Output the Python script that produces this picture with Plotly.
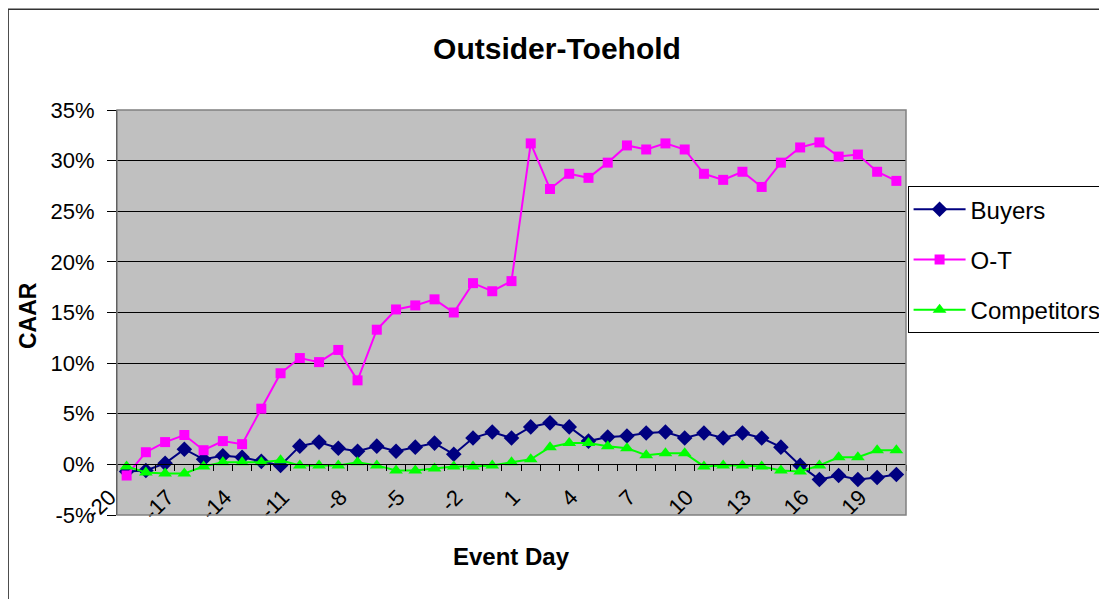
import plotly.graph_objects as go

days = list(range(-20, 21))
x_tick_vals = [-20, -17, -14, -11, -8, -5, -2, 1, 4, 7, 10, 13, 16, 19]
x_tick_text = ["-20", "-17", "-14", "-11", "-8", "-5", "-2", "1", "4", "7", "10", "13", "16", "19"]
y_tick_vals = [-5, 0, 5, 10, 15, 20, 25, 30, 35]
y_tick_text = ["-5%", "0%", "5%", "10%", "15%", "20%", "25%", "30%", "35%"]

buyers = [-0.7, -0.6, 0.1, 1.5, 0.5, 0.85, 0.7, 0.3, -0.1, 1.8,
          2.2, 1.6, 1.3, 1.8, 1.3, 1.7, 2.1, 1.0, 2.6, 3.2,
          2.6, 3.7, 4.1, 3.7, 2.3, 2.7, 2.8, 3.1, 3.2, 2.6,
          3.1, 2.6, 3.1, 2.6, 1.7, -0.1, -1.5, -1.1, -1.5, -1.3,
          -1.0]

ot = [-1.1, 1.2, 2.2, 2.9, 1.4, 2.3, 2.0, 5.5, 9.0, 10.5,
      10.1, 11.3, 8.3, 13.3, 15.3, 15.7, 16.3, 15.0, 17.9, 17.1,
      18.1, 31.7, 27.2, 28.7, 28.3, 29.8, 31.5, 31.1, 31.7, 31.1,
      28.7, 28.1, 28.9, 27.4, 29.8, 31.3, 31.8, 30.4, 30.6, 28.9,
      28.0]

competitors = [-0.2, -0.8, -0.9, -0.9, -0.2, 0.2, 0.2, 0.2, 0.4, -0.1,
               -0.1, -0.1, 0.2, -0.1, -0.6, -0.6, -0.4, -0.2, -0.2, -0.1,
               0.2, 0.5, 1.7, 2.1, 2.1, 1.8, 1.6, 0.9, 1.1, 1.1,
               -0.2, -0.1, -0.1, -0.2, -0.6, -0.7, -0.1, 0.7, 0.7, 1.4,
               1.4]

FONT = "Liberation Sans, Arial, sans-serif"

fig = go.Figure()
fig.add_trace(go.Scatter(x=days, y=buyers, name="Buyers", mode="lines+markers",
                         line=dict(color="#000080", width=2),
                         marker=dict(symbol="diamond", size=12, color="#000080"),
                         legendgroup="b"))
fig.add_trace(go.Scatter(x=days, y=ot, name="O-T", mode="lines+markers",
                         line=dict(color="#FF00FF", width=2),
                         marker=dict(symbol="square", size=10, color="#FF00FF"),
                         legendgroup="o"))
fig.add_trace(go.Scatter(x=days, y=competitors, name="Competitors", mode="lines+markers",
                         line=dict(color="#00FF00", width=2),
                         marker=dict(symbol="triangle-up", size=12, color="#00FF00"),
                         legendgroup="c"))
# invisible trace to carry the zero-crossing category axis
fig.add_trace(go.Scatter(x=days, y=buyers, xaxis="x2", mode="markers",
                         marker=dict(opacity=0), showlegend=False, hoverinfo="skip"))

boundaries = [d - 0.5 for d in days] + [days[-1] + 0.5]

W, H = 1099, 591  # page body adds an 8px margin

fig.update_layout(
    width=W, height=H,
    margin=dict(l=109, r=201, t=102, b=84, autoexpand=False),
    paper_bgcolor="white",
    plot_bgcolor="#C0C0C0",
    font=dict(family=FONT, color="black"),
    title=dict(text="<b>Outsider-Toehold</b>", x=549 / W, xref="container",
               xanchor="center", y=1 - 40 / H, yanchor="middle", yref="container",
               font=dict(size=30, family=FONT, color="black")),
    xaxis=dict(range=[-20.5, 20.5], tickmode="array", tickvals=x_tick_vals,
               ticktext=x_tick_text, showgrid=False,
               zeroline=False, showline=False, ticks="", tickangle=-45,
               tickfont=dict(size=22, family=FONT),
               ticklabelstandoff=-36, ticklabelshift=-17),
    xaxis2=dict(range=[-20.5, 20.5], overlaying="x", anchor="free", position=0.125,
                side="bottom", showgrid=False, zeroline=False, showline=True,
                linecolor="black", linewidth=1, ticks="outside", ticklen=6,
                tickcolor="black", tickmode="array", tickvals=boundaries,
                showticklabels=False),
    yaxis=dict(range=[-5, 35], tickmode="array", tickvals=y_tick_vals,
               ticktext=y_tick_text, showgrid=True,
               gridcolor="black", gridwidth=1, zeroline=False,
               showline=True, linecolor="black", linewidth=1,
               ticks="outside", ticklen=9, tickcolor="black",
               tickfont=dict(size=22, family=FONT), ticklabelstandoff=8),
    legend=dict(x=1.002, y=0.812, xanchor="left", yanchor="top",
                bgcolor="white", bordercolor="black", borderwidth=1,
                font=dict(size=24, family=FONT), tracegroupgap=16,
                itemwidth=52),
    showlegend=True,
)

fig.add_shape(type="rect", xref="paper", yref="paper", x0=0, x1=1, y0=0, y1=1,
              line=dict(color="#808080", width=1.5), layer="above")
fig.add_shape(type="rect", xref="paper", yref="paper", x0=-0.138, x1=1.2535,
              y0=-0.3, y1=1.249, line=dict(color="#333333", width=1.5))

fig.add_annotation(text="<b>Event Day</b>", xref="paper", yref="paper",
                   x=0.5, y=(515 - 556) / 405, xanchor="center", yanchor="middle",
                   showarrow=False, font=dict(size=24, family=FONT, color="black"))
fig.add_annotation(text="<b>CAAR</b>", xref="paper", yref="paper",
                   x=(28 - 117) / 789, y=(515 - 316) / 405, textangle=-90,
                   xanchor="center", yanchor="middle",
                   showarrow=False, font=dict(size=23, family=FONT, color="black"))

fig.write_html("out.html")
